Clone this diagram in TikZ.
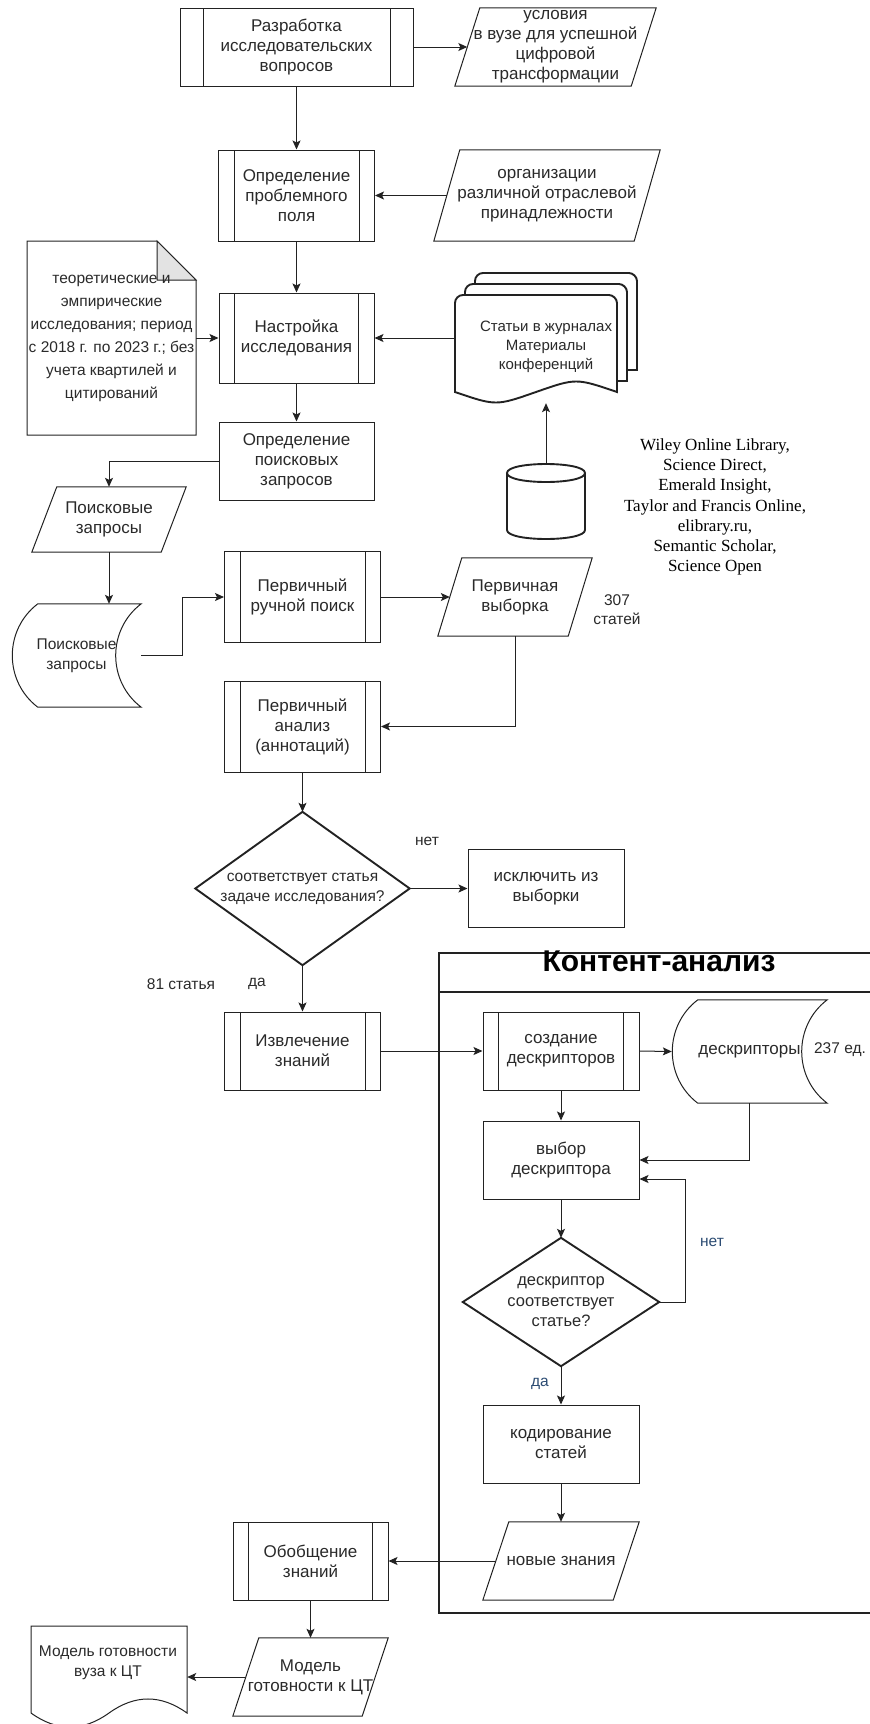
\documentclass[tikz,border=0pt]{standalone}
\usepackage{fontspec}
\setmainfont{Liberation Sans}
\newfontfamily\wileyfont{Liberation Serif}
\usetikzlibrary{arrows.meta,calc}
\definecolor{ink}{HTML}{222222}
\definecolor{txtc}{HTML}{2A2A2A}
\definecolor{bluelab}{HTML}{2B4B72}
\definecolor{foldgray}{HTML}{E3E3E3}
\newcommand{\pgramOutline}[2]{%
  \draw[ln] ([xshift=#2]#1.north west) -- (#1.north east) -- ([xshift=-#2]#1.south east) -- (#1.south west) -- cycle;
  \coordinate (#1-w) at ([xshift=#2/2]#1.west);
}
\newcommand{\sdOutline}[1]{%
  \draw[ln] ([xshift=26pt]#1.north west) -- (#1.north east)
    .. controls ($(#1.north east)!0.25!(#1.south east)+(-34,0)$) and ($(#1.north east)!0.75!(#1.south east)+(-34,0)$) .. (#1.south east)
    -- ([xshift=26pt]#1.south west)
    .. controls ($(#1.south west)!0.25!(#1.north west)+(-8,0)$) and ($(#1.south west)!0.75!(#1.north west)+(-8,0)$) .. ([xshift=26pt]#1.north west) -- cycle;
}
\tikzset{
  ln/.style={draw=ink, line width=1pt},
  thk/.style={draw=ink, line width=1.9pt},
  arr/.style={draw=ink, line width=1pt, -{Stealth[length=9pt,width=8pt,inset=2pt]}},
  big/.style={font=\fontsize{17}{20}\selectfont, text=txtc, align=center},
  small/.style={font=\fontsize{15.5}{20}\selectfont, text=txtc, align=center},
  wh/.style 2 args={minimum width=#1pt, minimum height=#2pt},
  box/.style={rectangle, ln, fill=white, inner sep=0pt, big},
  procbar/.store in=\procbarw,
  proc/.style={box, procbar=15.5pt, path picture={
    \draw[ink, line width=1pt]
      ([xshift=\procbarw]path picture bounding box.north west) -- ([xshift=\procbarw]path picture bounding box.south west)
      ([xshift=-\procbarw]path picture bounding box.north east) -- ([xshift=-\procbarw]path picture bounding box.south east);}},
  shp/.style={rectangle, inner sep=0pt, draw=none, big},
  lab/.style={small, inner sep=0pt},
}
\begin{document}
\begin{tikzpicture}[x=1pt,y=-1pt]
\useasboundingbox (0,0) rectangle (870,1724);

% ---------- top part ----------
\node[proc, procbar=23pt, wh={233}{78}] (b1) at (296.5,47) {Разработка\\исследовательских\\вопросов};
\node[shp, wh={201}{78}] (p1) at (555.5,47) {условия\\в вузе для успешной\\цифровой\\трансформации};
\pgramOutline{p1}{25pt}

\node[proc, wh={156}{91}] (b2) at (296.5,195.5) {Определение\\проблемного\\поля};
\node[shp, wh={226}{91}] (p2) at (547,195.5) {организации\\различной отраслевой\\принадлежности};
\pgramOutline{p2}{26pt}

\node[proc, wh={155}{90}] (b3) at (296.5,338) {Настройка\\исследования};

% note
\draw[ln] (27,241) -- (157,241) -- (196,280) -- (196,435) -- (27,435) -- cycle;
\draw[ln, fill=foldgray] (157,241) -- (157,280) -- (196,280) -- cycle;
\node[shp, wh={169}{194}, font=\fontsize{15.5}{23}\selectfont] (note) at (111.5,338)
  {теоретические и\\эмпирические\\исследования; период\\с 2018 г. по 2023 г.; без\\учета квартилей и\\цитирований};

% multi document
\draw[thk, fill=white] (637,370) -- (637,281) .. controls (637,276.6) and (632.6,273) .. (629,273) -- (483,273) .. controls (478.6,273) and (475,276.6) .. (475,281) -- (475,370) -- cycle;
\draw[thk, fill=white] (627,381) -- (627,292) .. controls (627,287.6) and (622.6,284) .. (619,284) -- (473,284) .. controls (468.6,284) and (465,287.6) .. (465,292) -- (465,381) -- cycle;
\draw[thk, fill=white] (617,392) -- (617,303) .. controls (617,298.6) and (612.6,295) .. (609,295) -- (463,295) .. controls (458.6,295) and (455,298.6) .. (455,303) -- (455,392) .. controls (496,406) .. (536,392) .. controls (576,378) .. (617,392) -- cycle;
\node[shp, wh={182}{130}] (md) at (546,338) {};
\node[lab, font=\fontsize{15}{19}\selectfont] (mdt) at (546,347) {Статьи в журналах\\Материалы\\конференций};

% cylinder
\node[shp, wh={78}{75}] (cyl) at (546,501.5) {};
\draw[thk, fill=white] (507,473) -- (507,530) .. controls (507,542) and (585,542) .. (585,530) -- (585,473);
\draw[thk, fill=white] (507,473) .. controls (507,461) and (585,461) .. (585,473) .. controls (585,485) and (507,485) .. (507,473) -- cycle;

\node[inner sep=0pt, align=center, font=\wileyfont\fontsize{17}{20.3}\selectfont] (wl) at (715,507)
  {Wiley Online Library,\\Science Direct,\\Emerald Insight,\\Taylor and Francis Online,\\elibrary.ru,\\Semantic Scholar,\\Science Open};

\node[box, wh={155}{78}] (b4) at (296.5,461) {Определение\\поисковых\\запросов};
\node[shp, wh={154}{65}] (p3) at (109,519.5) {Поисковые\\запросы};
\pgramOutline{p3}{25pt}

\node[shp, wh={129}{103}, small] (sd1) at (76.5,655.5) {Поисковые\\запросы};
\sdOutline{sd1}

\node[proc, wh={156}{91}] (b5) at (302.5,597) {Первичный\\ручной поиск};
\node[shp, wh={154}{78}] (pv) at (515,597) {Первичная\\выборка};
\pgramOutline{pv}{24pt}
\node[lab, font=\fontsize{15.5}{19.5}\selectfont] (n307) at (617,609.5) {307\\статей};

\node[proc, wh={156}{91}] (b6) at (302.5,726.5) {Первичный\\анализ\\(аннотаций)};

% decision 1
\node[shp, wh={214}{153}, small] (d1) at (302.5,888.5) {соответствует статья\\задаче исследования?};
\draw[thk] (d1.north) -- (d1.east) -- (d1.south) -- (d1.west) -- cycle;
\node[box, wh={156}{78}] (ex) at (546,888.5) {исключить из\\выборки};
\node[lab] (net1) at (427,841) {нет};
\node[lab] (n81) at (181,984) {81 статья};
\node[lab] (da1) at (257,984) {да};

\node[proc, wh={156}{78}] (b7) at (302.5,1051) {Извлечение\\знаний};

% container
\draw[draw=ink, line width=1.2pt] (872,953) -- (439,953) -- (439,1613) -- (872,1613);
\draw[draw=ink, line width=1.2pt] (439,992) -- (872,992);
\node[inner sep=0pt, font=\fontsize{30}{34}\selectfont\bfseries, text=black] (title) at (659,961.5) {Контент-анализ};

\node[proc, wh={156}{78}] (cd) at (561,1051) {создание\\дескрипторов};
\node[shp, wh={155}{103}] (sd2) at (749.5,1051.5) {дескрипторы};
\sdOutline{sd2}
\node[lab] (n237) at (840,1050) {237 ед.};

\node[box, wh={156}{78}] (vd) at (561,1160) {выбор\\дескриптора};
\node[shp, wh={196}{128}, font=\fontsize{16.5}{20.5}\selectfont] (d2) at (561,1302) {дескриптор\\соответствует\\статье?};
\draw[thk] (d2.north) -- (d2.east) -- (d2.south) -- (d2.west) -- cycle;
\node[lab, text=bluelab] (net2) at (712,1242) {нет};
\node[lab, text=bluelab] (da2) at (540,1384) {да};

\node[box, wh={156}{78}] (kod) at (561,1444) {кодирование\\статей};
\node[shp, wh={156}{78}] (nz) at (561,1561) {новые знания};
\pgramOutline{nz}{26pt}

\node[proc, wh={155}{78}] (ob) at (310.5,1561) {Обобщение\\знаний};
\node[shp, wh={155}{78}] (mp) at (310.5,1677) {Модель\\готовности к ЦТ};
\pgramOutline{mp}{26pt}

% document
\node[shp, wh={156}{102}] (doc) at (109,1677) {};
\draw[ln] (31,1713) -- (31,1626) -- (187,1626) -- (187,1713) .. controls (161,1694.3) and (135,1694.3) .. (109,1713) .. controls (83,1731.7) and (57,1731.7) .. (31,1713);
\node[lab, font=\fontsize{15.5}{19.5}\selectfont] (doct) at (108,1663) {Модель готовности\\вуза к ЦТ};

% ---------- connectors ----------
\draw[arr] (b1.east) -- (p1-w);
\draw[arr] (b1.south) -- (b1.south |- b2.north);
\draw[arr] (p2-w) -- (b2.east);
\draw[arr] (b2.south) -- (b2.south |- b3.north);
\draw[arr] (note.east) -- (b3.west);
\draw[arr] (md.west) -- (b3.east);
\draw[arr] (cyl.north) -- (md.south);
\draw[arr] (b3.south) -- (b3.south |- b4.north);
\draw[arr] (b4.west) -| (p3.center |- p3.north);
\draw[arr] (p3.center |- p3.south) -- (p3.center |- sd1.north);
\draw[arr] (sd1.east) -- ++(41.5,0) |- (b5.west);
\draw[arr] (b5.east) -- (pv-w);
\draw[arr] (pv.south) |- (b6.east);
\draw[arr] (b6.south) -- (d1.north);
\draw[arr] (d1.east) -- (ex.west);
\draw[arr] (d1.south) -- (b7.north);
\draw[arr] (b7.east) -- (cd.west);
\draw[arr] (cd.east) -- (sd2.west);
\draw[arr] (cd.south) -- (vd.north);
\draw[arr] (sd2.south) |- (vd.east);
\draw[arr] (vd.south) -- (d2.north);
\draw[arr] (d2.east) -- ++(26,0) |- ([yshift=-19pt]vd.east);
\draw[arr] (d2.south) -- (kod.north);
\draw[arr] (kod.south) -- (kod.south |- nz.north);
\draw[arr] (nz-w) -- (ob.east);
\draw[arr] (ob.south) -- (ob.south |- mp.north);
\draw[arr] (mp-w) -- (doc.east);
\end{tikzpicture}
\end{document}
